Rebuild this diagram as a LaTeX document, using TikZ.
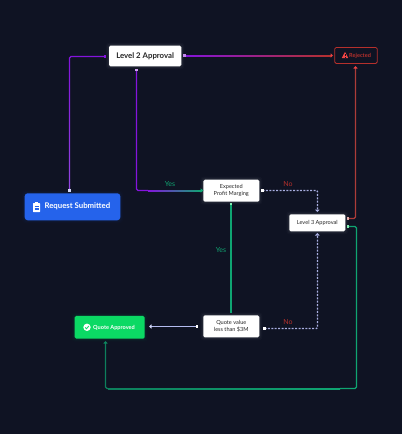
\documentclass[tikz,border=0pt]{standalone}
\usepackage{fontspec}
\setmainfont{Lato}
\usetikzlibrary{arrows.meta,calc}
\definecolor{bgc}{HTML}{0F1323}
\definecolor{purp}{HTML}{8414DC}
\definecolor{redc}{HTML}{B5302C}
\definecolor{redl}{HTML}{EF4444}
\definecolor{grn}{HTML}{0FA572}
\definecolor{grnd}{HTML}{0D7F5C}
\definecolor{peri}{HTML}{B4BCF0}
\definecolor{dotc}{HTML}{A8AEE0}
\definecolor{blu}{HTML}{2563EB}
\definecolor{grb}{HTML}{0BD964}
\tikzset{
  whitebox/.style={draw=none,fill=white,rounded corners=1.5pt,text=black!85,align=center,inner sep=0pt,font=\fontsize{6}{8}\selectfont},
  lab/.style={font=\fontsize{7}{8}\selectfont,inner sep=0pt},
  wire/.style={line width=1.4pt,line join=round,rounded corners=1.5pt},
  dotwire/.style={line width=1.2pt,color=dotc,dash pattern=on 2pt off 1.4pt,rounded corners=1pt},
}
% gradient legs: from A to B, drawn as thin shaded bars
\newcommand{\hgrad}[4]{\shade[left color=#3,right color=#4] ($(#1)+(0,-.5)$) rectangle ($(#2)+(0,.5)$);}
\newcommand{\vgrad}[4]{\shade[top color=#3,bottom color=#4] ($(#1)+(-.6,0)$) rectangle ($(#2)+(.6,0)$);}
\newcommand{\epd}[2]{\fill[#2] ($(#1)+(-1.4,-1.4)$) rectangle ($(#1)+(1.4,1.4)$);}
\begin{document}
\begin{tikzpicture}[x=1pt,y=-1pt]
\useasboundingbox (0,0) rectangle (402,434);
\fill[bgc] (0,0) rectangle (402,434);
% glows
\foreach \e/\o in {3/.02,2/.03,1/.05}{
  \fill[white,opacity=\o,rounded corners=3pt] (109-\e,45.7-\e) rectangle (181.3+\e,66.3+\e);
  \fill[white,opacity=\o,rounded corners=3pt] (203.3-\e,179.7-\e) rectangle (259.3+\e,201.7+\e);
  \fill[white,opacity=\o,rounded corners=3pt] (289.3-\e,214.3-\e) rectangle (345.3+\e,231.3+\e);
  \fill[white,opacity=\o,rounded corners=3pt] (203.3-\e,315.3-\e) rectangle (259.3+\e,337.3+\e);
  \fill[blu,opacity=\o,rounded corners=4pt] (24.7-\e,193.3-\e) rectangle (120.3+\e,220.3+\e);
  \fill[grb,opacity=\o,rounded corners=3pt] (74.7-\e,316-\e) rectangle (144.7+\e,338.7+\e);
}
% nodes
\node[whitebox,minimum width=72.3pt,minimum height=20.6pt,font=\fontsize{7.8}{9}\bfseries\selectfont] (l2) at (145.15,56) {Level 2 Approval};
\node[draw=redc,line width=.8pt,fill=bgc,rounded corners=1.5pt,minimum width=42.6pt,minimum height=16pt,inner sep=0pt] (rej) at (356,55.4) {};
\node[lab,text=redc,anchor=west,font=\fontsize{5.6}{7}\bfseries\selectfont] (rejt) at (349,55.8) {Rejected};
\node[fill=blu,rounded corners=3pt,minimum width=95.6pt,minimum height=27pt,inner sep=0pt] (req) at (72.5,206.8) {};
\node[lab,text=white,anchor=west,font=\fontsize{7.8}{9}\bfseries\selectfont] (reqt) at (44.3,206.5) {Request Submitted};
\node[whitebox,minimum width=56pt,minimum height=22pt,font=\fontsize{5.6}{7}\selectfont] (ep) at (231.3,190.7) {Expected\\Profit Marging};
\node[whitebox,minimum width=56pt,minimum height=17pt,font=\fontsize{5.6}{7}\selectfont] (l3) at (317.3,222.8) {Level 3 Approval};
\node[fill=grb,rounded corners=1.5pt,minimum width=70pt,minimum height=22.7pt,inner sep=0pt] (qa) at (109.7,327.3) {};
\node[lab,text=white,anchor=west,font=\fontsize{5.6}{7}\bfseries\selectfont] (qat) at (93,327.5) {Quote Approved};
\node[whitebox,minimum width=56pt,minimum height=22pt,font=\fontsize{5.6}{7}\selectfont] (qv) at (231.3,326.3) {Quote value\\less than \$3M};
% icons
\fill[redl,rounded corners=.3pt] (345,51.8)--(348.2,58)--(341.8,58)--cycle;
\fill[bgc] (344.7,53.8) rectangle (345.3,56);
\fill[bgc] (344.7,56.5) rectangle (345.3,57.2);
\fill[white,rounded corners=.5pt] (33.2,203)rectangle(40,212.2);
\fill[white] (35,202) rectangle (38.2,204);
\draw[blu,line width=.4pt] (34.7,206)--(38.5,206) (34.7,207.8)--(38.5,207.8) (34.7,209.6)--(38.5,209.6);
\fill[white] (87,327.3) circle (3.7);
\draw[grb,line width=.8pt] (85.2,327.4)--(86.5,328.8)--(88.9,325.9);
% connector end coordinates
\coordinate (a1) at (105,56.5);
\coordinate (a2) at (69.5,190.5);
\coordinate (a3) at (69.5,62);
\coordinate (b1) at (136.5,70);
\coordinate (b2) at (201,190.5);
\coordinate (b3) at (148,190.5);
\coordinate (c1) at (184.5,55.5);
\coordinate (c2) at (331,55.5);
\coordinate (d1) at (355.5,68);
\coordinate (d2) at (348,218.5);
\coordinate (e1) at (348,226.5);
\coordinate (e2) at (105.5,343);
\coordinate (e3) at (340,388.5);
\coordinate (e4) at (108,388.5);
\coordinate (f1) at (262.5,190.5);
\coordinate (f2) at (317,210);
\coordinate (g1) at (264.5,328.5);
\coordinate (g2) at (317,235);
\coordinate (h1) at (231,204);
\coordinate (h2) at (231,312);
\coordinate (i1) at (197,326.5);
\coordinate (i2) at (151,326.5);
% Level 2 -> Request
\draw[wire,purp] (a1) -- (69.5,56.5) -- (a3);
\vgrad{a3}{a2}{purp}{peri!30!purp}
\epd{a1}{purp}
\epd{a2}{peri!60!white}
% Level 2 -> Expected
\draw[wire,purp] (b1) -- (136.5,190.5) -- (b3);
\hgrad{b3}{b2}{purp}{grn}
\epd{b1}{purp!40!white}
\fill[grn] ($(b2)+(-.5,-2.2)$) -- ($(b2)+(2.5,0)$) -- ($(b2)+(-.5,2.2)$) -- cycle;
% Level 2 -> Rejected
\hgrad{c1}{c2}{purp}{redc}
\epd{c1}{purp!50!white}
\fill[redl] ($(c2)+(-.5,-2.2)$) -- ($(c2)+(2,0)$) -- ($(c2)+(-.5,2.2)$) -- cycle;
% Level 3 -> Rejected
\draw[wire,redc!85!gray] (d1) -- (355.5,218.5) -- (d2);
\fill[redl] ($(d1)+(-2.2,.5)$) -- ($(d1)+(0,-2)$) -- ($(d1)+(2.2,.5)$) -- cycle;
\epd{d2}{redc!40!white}
% Level 3 -> Quote Approved
\draw[wire,grn] (e1) -- (356.5,226.5) -- (356.5,388.5) -- (e3);
\hgrad{e4}{e3}{grnd}{grn}
\draw[wire,grnd] (e4) -- (105.5,388.5) -- (e2);
\epd{e1}{grb!50!white}
\fill[grnd!80!grn] ($(e2)+(-2.2,.5)$) -- ($(e2)+(0,-2)$) -- ($(e2)+(2.2,.5)$) -- cycle;
% Expected -> Level 3
\draw[dotwire] (f1) -- (317.5,190.5) -- (317.5,210);
\epd{f1}{white}
\fill[dotc] ($(f2)+(-2.2,-.5)$) -- ($(f2)+(.5,2)$) -- ($(f2)+(2.7,-.5)$) -- cycle;
% Quote value -> Level 3
\draw[dotwire] (g1) -- (317.5,328.5) -- (317.5,235);
\epd{g1}{white}
\fill[dotc] ($(g2)+(-2.2,.5)$) -- ($(g2)+(.5,-2)$) -- ($(g2)+(2.7,.5)$) -- cycle;
% Expected <-> Quote value
\draw[wire,grn] (h1) -- (h2);
\epd{h1}{grb!50!white}
\epd{h2}{grn}
% Quote value -> Quote Approved
\draw[line width=1.2pt,color=peri] (i1) -- (i2);
\epd{i1}{white}
\fill[peri!60!white] ($(i2)+(.5,-2.2)$) -- ($(i2)+(-2,0)$) -- ($(i2)+(.5,2.2)$) -- cycle;
% labels
\node[lab,text=grn] (y1) at (170,184.5) {Yes};
\node[lab,text=redc] (n1) at (288,184.5) {No};
\node[lab,text=grn] (y2) at (221,250.5) {Yes};
\node[lab,text=redc] (n2) at (288,322.5) {No};
\end{tikzpicture}
\end{document}
